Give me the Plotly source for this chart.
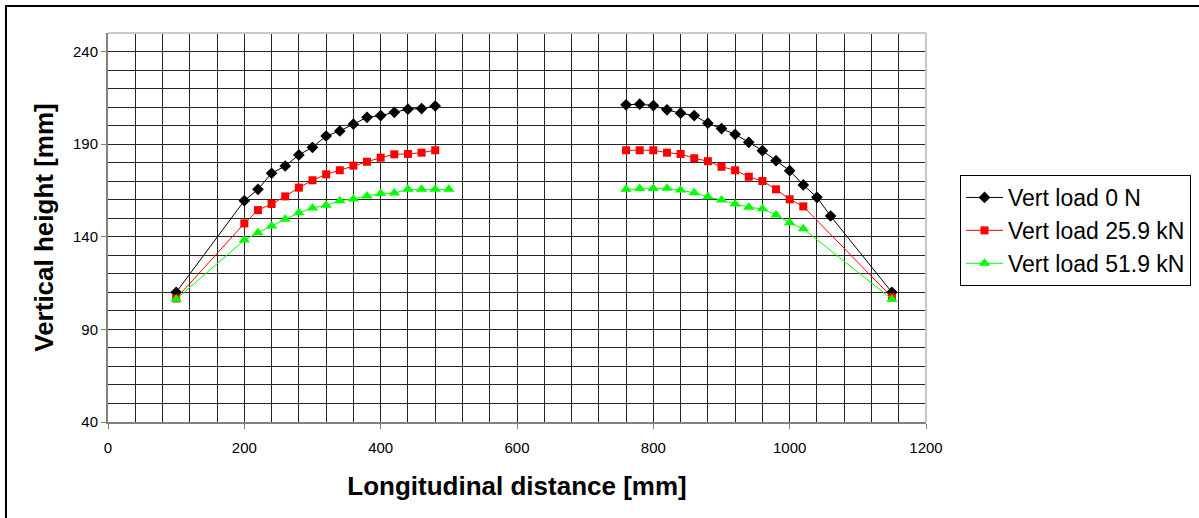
import plotly.graph_objects as go

# Longitudinal positions [mm]
x_black = [100, 200, 220, 240, 260, 280, 300, 320, 340, 360, 380, 400, 420, 440, 460, 480,
           None,
           760, 780, 800, 820, 840, 860, 880, 900, 920, 940, 960, 980, 1000, 1020, 1040, 1060, 1150]
y_black = [110, 159.5, 165.6, 174.3, 178.2, 184.2, 188.3, 194.4, 197.1, 200.8, 204.5, 205.4, 207.2, 208.9, 209.2, 210.6,
           None,
           211.2, 211.6, 210.8, 208.5, 206.7, 205.4, 201.3, 198.4, 195.3, 191.0, 186.5, 181.1, 175.7, 168.0, 161.3, 151.2, 110]

x_red = [100, 200, 220, 240, 260, 280, 300, 320, 340, 360, 380, 400, 420, 440, 460, 480,
         None,
         760, 780, 800, 820, 840, 860, 880, 900, 920, 940, 960, 980, 1000, 1020, 1150]
y_red = [106.7, 147.2, 154.4, 157.7, 161.8, 166.5, 170.5, 173.7, 175.9, 178.4, 180.5, 182.7, 184.5, 184.7, 185.4, 186.7,
         None,
         186.7, 186.7, 186.7, 185.4, 184.7, 182.4, 180.8, 177.8, 175.9, 172.4, 170.1, 165.6, 160.2, 156.4, 107.3]

x_green = [100, 200, 220, 240, 260, 280, 300, 320, 340, 360, 380, 400, 420, 440, 460, 480, 500,
           None,
           760, 780, 800, 820, 840, 860, 880, 900, 920, 940, 960, 980, 1000, 1020, 1150]
y_green = [106.3, 138.2, 142.2, 145.8, 149.4, 153.0, 155.5, 157.0, 159.5, 160.4, 162.0, 163.4, 163.6, 165.6, 165.6, 165.6, 165.6,
           None,
           165.6, 166.0, 166.0, 166.2, 165.2, 163.8, 161.6, 159.8, 157.7, 155.9, 155.1, 151.7, 147.6, 144.3, 106.3]

names = ["Vert load 0 N", "Vert load 25.9 kN", "Vert load 51.9 kN"]
x_title = "Longitudinal distance [mm]"
y_title = "Vertical height [mm]"

FONT = "Liberation Sans, Arial, sans-serif"

fig = go.Figure()
fig.add_trace(go.Scatter(x=x_black, y=y_black, mode="lines+markers", name=names[0],
                         line=dict(color="black", width=1),
                         marker=dict(symbol="diamond", size=9, color="black"),
                         connectgaps=False))
fig.add_trace(go.Scatter(x=x_red, y=y_red, mode="lines+markers", name=names[1],
                         line=dict(color="#FF0000", width=1),
                         marker=dict(symbol="square", size=8, color="#FF0000"),
                         connectgaps=False))
fig.add_trace(go.Scatter(x=x_green, y=y_green, mode="lines+markers", name=names[2],
                         line=dict(color="#00FF00", width=1),
                         marker=dict(symbol="triangle-up", size=10, color="#00FF00"),
                         connectgaps=False))

grid_color = "#262626"

fig.update_layout(
    width=1199, height=518,
    margin=dict(l=108, r=273, t=33, b=96, autoexpand=False),
    paper_bgcolor="white", plot_bgcolor="white",
    font=dict(family=FONT, color="black"),
    showlegend=True,
    legend=dict(
        xref="container", yref="container",
        x=960 / 1199, xanchor="left", y=1 - 175 / 518, yanchor="top",
        bordercolor="black", borderwidth=1, bgcolor="white",
        font=dict(size=23, family=FONT, color="black"),
        tracegroupgap=0, itemwidth=37,
    ),
    xaxis=dict(
        range=[0, 1200], tick0=0, dtick=200,
        showgrid=True, gridcolor=grid_color, gridwidth=1,
        minor=dict(dtick=40, showgrid=True, gridcolor=grid_color, gridwidth=1),
        showline=True, linecolor="#808080", linewidth=2,
        ticks="outside", ticklen=5, tickcolor="#808080", tickwidth=1,
        ticklabelstandoff=6,
        tickfont=dict(size=15, family=FONT, color="black"),
        title=dict(text="<b>" + x_title + "</b>", font=dict(size=26, family=FONT, color="black"), standoff=22),
        zeroline=False, mirror=False,
    ),
    yaxis=dict(
        range=[40, 250], tick0=40, dtick=50,
        showgrid=True, gridcolor=grid_color, gridwidth=1,
        minor=dict(dtick=10, showgrid=True, gridcolor=grid_color, gridwidth=1),
        showline=True, linecolor="#808080", linewidth=2,
        ticks="outside", ticklen=5, tickcolor="#808080", tickwidth=1,
        tickfont=dict(size=15, family=FONT, color="black"),
        title=dict(text="<b>" + y_title + "</b>", font=dict(size=26, family=FONT, color="black"), standoff=12),
        zeroline=False,
    ),
)

# light frame on top and right edges of the plot area
fig.add_shape(type="line", xref="paper", yref="paper", x0=0, x1=1, y0=1, y1=1,
              line=dict(color="#c8c8c8", width=2))
fig.add_shape(type="line", xref="paper", yref="paper", x0=1, x1=1, y0=0, y1=1,
              line=dict(color="#c8c8c8", width=2))

# outer chart border (left and top visible)
fig.add_shape(type="rect", xref="paper", yref="paper",
              x0=(6 - 108) / 818, x1=(1210 - 108) / 818,
              y0=(422 - 530) / 389, y1=(422 - 6) / 389,
              line=dict(color="black", width=2), fillcolor="rgba(0,0,0,0)", layer="above")

fig.write_html("out.html")
